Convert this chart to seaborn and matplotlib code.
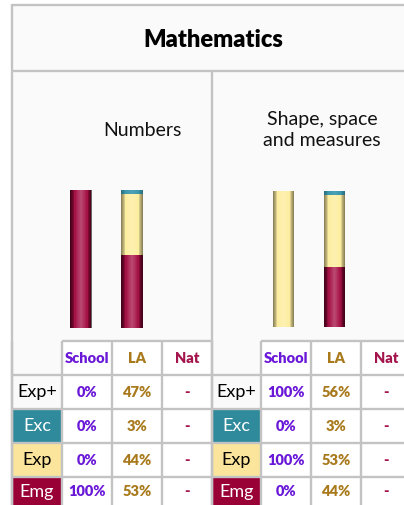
import numpy as np
import pandas as pd
import matplotlib
matplotlib.use("Agg")
import matplotlib.pyplot as plt
from matplotlib.patches import Rectangle
import seaborn as sns

# データ
title = "Mathematics"
panel_titles = ["Numbers", "Shape, space\nand measures"]
bands = ["Exp+", "Exc", "Exp", "Emg"]
groups = ["School", "LA", "Nat"]
numbers_school = [0, 0, 0, 100]
numbers_la = [47, 3, 44, 53]
shape_school = [100, 0, 100, 0]
shape_la = [56, 3, 53, 44]

# 色
RED = "#a30a40"
YELLOW = "#fdeea0"
TEAL = "#3a97ad"
band_bg = {"Exp+": "white", "Exc": "#2f8a9c", "Exp": "#fbe49b", "Emg": "#990036"}
band_fg = {"Exp+": "black", "Exc": "white", "Exp": "black", "Emg": "white"}
group_fg = {"School": "#6a18d8", "LA": "#a87a1c", "Nat": "#a3154c"}
LINE = "#c3c3c3"

sns.set_theme(style="white")
plt.rcParams["font.family"] = ["Lato", "DejaVu Sans"]

W, H = 404, 506
fig = plt.figure(figsize=(W / 100, H / 100), dpi=100)
base = fig.add_axes([0, 0, 1, 1])
base.set_xlim(0, W)
base.set_ylim(H, 0)
base.axis("off")

# 背景と枠線
base.add_patch(Rectangle((12, 5), W - 12, H - 5, facecolor="#fafafa", edgecolor="none"))


def hline(y, x0, x1):
    base.plot([x0, x1], [y, y], color=LINE, lw=1.7, solid_capstyle="butt")


def vline(x, y0, y1):
    base.plot([x, x], [y0, y1], color=LINE, lw=1.7, solid_capstyle="butt")


hline(5.5, 12, W)
vline(12, 5, H)
hline(72, 12, W)
vline(211.5, 72, 342)

base.text(213, 40, title, ha="center", va="center", fontsize=17, fontweight="heavy", color="black")
base.text(142, 130, panel_titles[0], ha="center", va="center", fontsize=14, color="#111111")
base.text(322, 130, panel_titles[1], ha="center", va="center", fontsize=14, color="#111111",
          linespacing=1.25)

# 表
row_edges = [342, 375.5, 409.5, 443.5, 477.5, 512]
tables = [
    dict(cols=[12, 62, 112, 162, 212], school=numbers_school, la=numbers_la),
    dict(cols=[212, 260.5, 311, 361, 412], school=shape_school, la=shape_la),
]
for t in tables:
    cols = t["cols"]
    for i, b in enumerate(bands):
        y0, y1 = row_edges[i + 1], row_edges[i + 2]
        if b != "Exp+":
            base.add_patch(Rectangle((cols[0], y0), cols[1] - cols[0], y1 - y0,
                                     facecolor=band_bg[b], edgecolor="none"))
        for j in range(1, 4):
            base.add_patch(Rectangle((cols[j], y0), cols[j + 1] - cols[j], y1 - y0,
                                     facecolor="white", edgecolor="none"))
    for j in range(1, 4):
        base.add_patch(Rectangle((cols[j], row_edges[0]), cols[j + 1] - cols[j],
                                 row_edges[1] - row_edges[0], facecolor="white", edgecolor="none"))
    hline(row_edges[0], cols[1], cols[-1])
    for y in row_edges[1:-1]:
        hline(y, cols[0], cols[-1])
    vline(cols[0], row_edges[0], H)
    for x in cols[1:]:
        vline(x, row_edges[0], H)

    ymid = [(row_edges[k] + row_edges[k + 1]) / 2 for k in range(5)]
    ymid[-1] = 492
    xmid = [(cols[k] + cols[k + 1]) / 2 for k in range(4)]
    for j, g in enumerate(groups):
        base.text(xmid[j + 1], ymid[0], g, ha="center", va="center", fontsize=10.5,
                  fontweight="heavy", color=group_fg[g])
    for i, b in enumerate(bands):
        base.text(xmid[0], ymid[i + 1], b, ha="center", va="center", fontsize=13, color=band_fg[b])
        base.text(xmid[1], ymid[i + 1], f"{t['school'][i]}%", ha="center", va="center",
                  fontsize=10.5, fontweight="heavy", color=group_fg["School"])
        base.text(xmid[2], ymid[i + 1], f"{t['la'][i]}%", ha="center", va="center",
                  fontsize=10.5, fontweight="heavy", color=group_fg["LA"])
        base.text(xmid[3], ymid[i + 1], "-", ha="center", va="center",
                  fontsize=10.5, fontweight="heavy", color=group_fg["Nat"])


# 棒グラフ（円柱風）
shade = np.zeros((1, 64, 4))
tt = np.linspace(0, 1, 64)
d = np.abs(tt - 0.5) * 2
light = np.clip(1 - d * 1.6, 0, 1)
dark = np.clip(d - 0.4, 0, 1) / 0.6
shade[0, :, :3] = (light > 0)[:, None] * 1.0
shade[0, :, 3] = np.where(light > 0, 0.10 * light, 0.28 * dark ** 1.5)


def draw_bars(rect, school, la):
    ax = fig.add_axes(rect)
    df = pd.DataFrame({
        "group": ["School", "LA"],
        "emg": [school[3], la[3]],
        "exp": [school[2], la[2]],
        "exc": [school[1], la[1]],
    })
    df["total"] = df["emg"] + df["exp"] + df["exc"]
    df["exp_top"] = df["emg"] + df["exp"]
    for col, c in [("total", TEAL), ("exp_top", YELLOW), ("emg", RED)]:
        sns.barplot(data=df, x="group", y=col, color=c, width=0.41, saturation=1,
                    edgecolor="none", linewidth=0, ax=ax)
    for p in list(ax.patches):
        if p.get_height() <= 0:
            continue
        x0, y0 = p.get_x(), p.get_y()
        im = ax.imshow(shade, extent=[x0, x0 + p.get_width(), y0, y0 + p.get_height()],
                       aspect="auto", zorder=3, interpolation="bilinear")
        im.set_clip_path(p)
    ax.set_xlim(-0.5, 1.5)
    ax.set_ylim(0, 100)
    ax.axis("off")
    return ax


def frac(x0, y0, x1, y1):
    return [x0 / W, 1 - y1 / H, (x1 - x0) / W, (y1 - y0) / H]


draw_bars(frac(54.75, 191, 157.75, 329), numbers_school, numbers_la)
draw_bars(frac(258.5, 192, 359.5, 328), shape_school, shape_la)

fig.savefig("out.png", dpi=100)
